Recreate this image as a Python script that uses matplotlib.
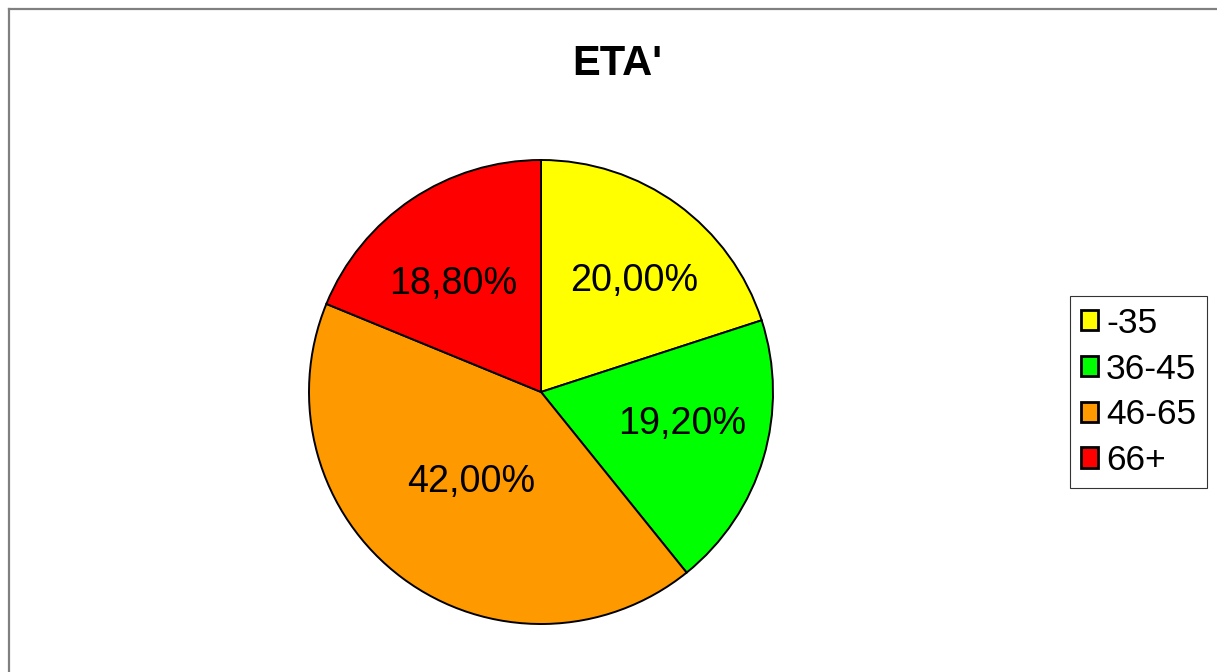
import matplotlib
matplotlib.use("Agg")
import matplotlib.pyplot as plt
from matplotlib.patches import Patch
from matplotlib.lines import Line2D
import math

plt.rcParams['font.family'] = ['Liberation Sans', 'DejaVu Sans']

# ---- data ----
categories = ["-35", "36-45", "46-65", "66+"]
values = [20.00, 19.20, 42.00, 18.80]
colors = ["#FFFF00", "#00FF00", "#FF9900", "#FF0000"]
title = "ETA'"

# label placement (fraction of radius, angle in degrees) -- style only
label_pos = [(0.625, 50.0), (0.625, -12.8), (0.49, -128.0), (0.60, 128.9)]

W, H = 1217, 672
fig = plt.figure(figsize=(W / 100, H / 100), dpi=100)
fig.patch.set_facecolor("white")

# outer frame (gray, open to right/bottom)
fx = 9 / W
fy = 1 - 9 / H
fig.add_artist(Line2D([fx, fx], [0, fy], transform=fig.transFigure, color="#808080", lw=1.6))
fig.add_artist(Line2D([fx, 1], [fy, fy], transform=fig.transFigure, color="#808080", lw=1.6))

# pie axes
cx, cy, R = 541, 392, 232
pad = 1.01
ax = fig.add_axes([(cx - R * pad) / W, (H - cy - R * pad) / H, 2 * R * pad / W, 2 * R * pad / H])
wedges, _ = ax.pie(values, colors=colors, startangle=90, counterclock=False,
                   wedgeprops=dict(edgecolor="black", linewidth=1.4))
ax.set_xlim(-pad, pad)
ax.set_ylim(-pad, pad)
ax.set_aspect("equal")
ax.axis("off")

for v, (r, a) in zip(values, label_pos):
    txt = f"{v:.2f}".replace(".", ",") + "%"
    ax.text(r * math.cos(math.radians(a)), r * math.sin(math.radians(a)), txt,
            ha="center", va="center", fontsize=27.2, color="black")

fig.text(617 / W, 1 - 64 / H, title, ha="center", va="center", fontsize=30, fontweight="bold")

handles = [Patch(facecolor=c, edgecolor="black", linewidth=2.0) for c in colors]
leg = fig.legend(handles, categories, loc="center left",
                 bbox_to_anchor=(1070 / W, 1 - 392 / H),
                 fontsize=25.5, frameon=True, fancybox=False, shadow=False,
                 handlelength=0.5, handleheight=0.5, handletextpad=0.22,
                 labelspacing=0.36, borderpad=0.3, borderaxespad=0)
leg.get_frame().set_edgecolor("#000000")
leg.get_frame().set_linewidth(0.8)

fig.savefig("out.png", dpi=100)
